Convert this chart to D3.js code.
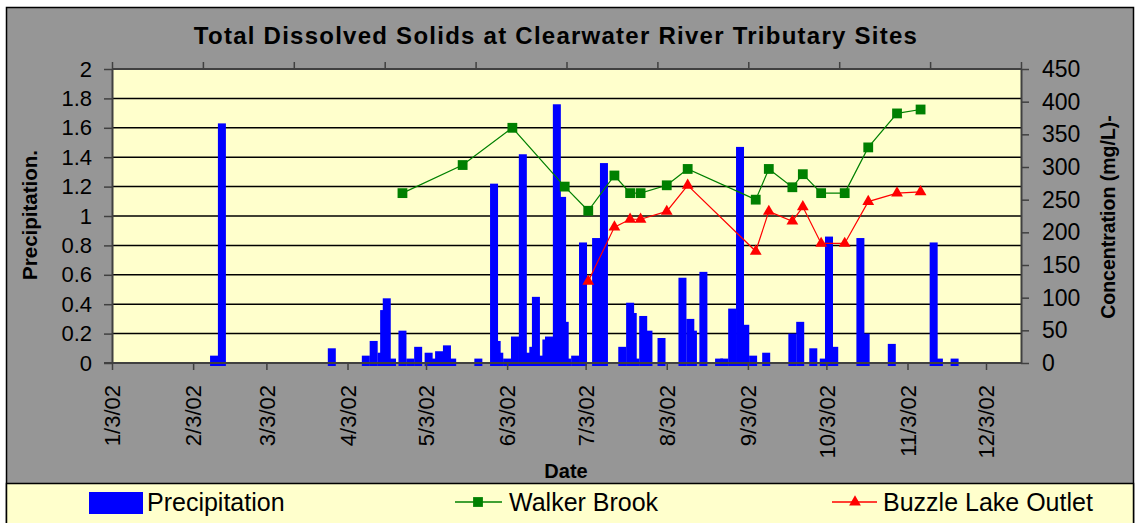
<!DOCTYPE html>
<html>
<head>
<meta charset="utf-8">
<script src="https://cdn.jsdelivr.net/npm/d3@7"></script>
<style>
  body { margin: 0; background: #fff; }
  svg { display: block; font-family: "Liberation Sans", Arial, sans-serif; }
</style>
</head>
<body>
<div id="chart"></div>
<script>
// precipitation (left axis)
const precipDates = [
  "2002-02-11", "2002-02-14", "2002-03-28", "2002-04-10", "2002-04-13", "2002-04-16", "2002-04-17",
  "2002-04-18", "2002-04-20", "2002-04-24", "2002-04-27", "2002-04-30", "2002-05-04", "2002-05-06",
  "2002-05-08", "2002-05-11", "2002-05-13", "2002-05-23", "2002-05-29", "2002-05-30", "2002-05-31",
  "2002-06-03", "2002-06-06", "2002-06-09", "2002-06-11", "2002-06-13", "2002-06-14", "2002-06-15",
  "2002-06-16", "2002-06-18", "2002-06-19", "2002-06-22", "2002-06-24", "2002-06-25", "2002-06-26",
  "2002-06-29", "2002-07-02", "2002-07-07", "2002-07-10", "2002-07-17", "2002-07-20", "2002-07-21",
  "2002-07-22", "2002-07-25", "2002-07-27", "2002-08-01", "2002-08-09", "2002-08-12", "2002-08-13",
  "2002-08-17", "2002-08-23", "2002-08-25", "2002-08-28", "2002-08-31", "2002-09-02", "2002-09-05",
  "2002-09-10", "2002-09-20", "2002-09-23", "2002-09-28", "2002-10-02", "2002-10-04", "2002-10-06",
  "2002-10-16", "2002-10-18", "2002-10-28", "2002-11-13", "2002-11-15", "2002-11-21"
];
const precipValues = [
  0.05, 1.63, 0.10, 0.05, 0.15, 0.07, 0.36,
  0.44, 0.03, 0.22, 0.03, 0.11, 0.07, 0.03,
  0.08, 0.12, 0.03, 0.03, 1.22, 0.15, 0.07,
  0.03, 0.18, 1.42, 0.07, 0.11, 0.45, 0.03,
  0.05, 0.16, 0.18, 1.76, 1.13, 0.28, 0.03,
  0.05, 0.82, 0.85, 1.36, 0.11, 0.41, 0.34,
  0.03, 0.32, 0.22, 0.17, 0.58, 0.30, 0.22,
  0.62, 0.03, 0.03, 0.37, 1.47, 0.26, 0.05,
  0.07, 0.20, 0.28, 0.10, 0.03, 0.86, 0.11,
  0.85, 0.20, 0.13, 0.82, 0.03, 0.03
];

// concentration samples (right axis)
const sampleDates = [
  "2002-04-24", "2002-05-17", "2002-06-05", "2002-06-25", "2002-07-04", "2002-07-14", "2002-07-20",
  "2002-07-24", "2002-08-03", "2002-08-11", "2002-09-06", "2002-09-11", "2002-09-20", "2002-09-24",
  "2002-10-01", "2002-10-10", "2002-10-19", "2002-10-30", "2002-11-08"
];
const walkerBrook = [260, 303, 360, 270, 233, 287, 260, 260, 272, 297, 250, 297, 269, 289, 260, 260, 330, 382, 388];
const buzzleLake = [null, null, null, null, 125, 208, 220, 220, 232, 272, 171, 232, 217, 239, 183, 183, 247, 260, 262];

const xTickDates = [
  "2002-01-03", "2002-02-03", "2002-03-03", "2002-04-03", "2002-05-03", "2002-06-03",
  "2002-07-03", "2002-08-03", "2002-09-03", "2002-10-03", "2002-11-03", "2002-12-03"
];
const leftTicks = [0, 0.2, 0.4, 0.6, 0.8, 1, 1.2, 1.4, 1.6, 1.8, 2];
const rightTicks = [0, 50, 100, 150, 200, 250, 300, 350, 400, 450];

const parse = d3.utcParse("%Y-%m-%d");
const W = 1135, H = 523;
const plot = { left: 112, right: 1021, top: 69, bottom: 363 };

const svg = d3.select("#chart").append("svg")
  .attr("width", W)
  .attr("height", H);

// chart frame + legend box
svg.append("rect")
  .attr("x", 6.5).attr("y", 7.5)
  .attr("width", 1127).attr("height", 520)
  .attr("fill", "#969696").attr("stroke", "#000").attr("stroke-width", 1.5);

svg.append("rect")
  .attr("x", 6.5).attr("y", 483.5)
  .attr("width", 1127).attr("height", 45)
  .attr("fill", "#ffffcc").attr("stroke", "#000").attr("stroke-width", 1.5);

svg.append("rect")
  .attr("x", plot.left).attr("y", plot.top)
  .attr("width", plot.right - plot.left).attr("height", plot.bottom - plot.top)
  .attr("fill", "#ffffcc");

// scales
const x = d3.scaleUtc()
  .domain([parse("2002-01-03"), parse("2002-12-03")])
  .range([plot.left, 986]);
const xTop = d3.scaleLinear().domain([0, 10]).range([plot.left, plot.right]);
const yLeft = d3.scaleLinear().domain([0, 2]).range([plot.bottom, plot.top]);
const yRight = d3.scaleLinear().domain([0, 450]).range([plot.bottom, plot.top]);

// gridlines
svg.append("g")
  .selectAll("line")
  .data(leftTicks)
  .enter().append("line")
  .attr("x1", plot.left).attr("x2", plot.right)
  .attr("y1", d => yLeft(d)).attr("y2", d => yLeft(d))
  .attr("stroke", "#000").attr("stroke-width", 1.5);

// precipitation bars
const barW = 8;
svg.append("g")
  .selectAll("rect")
  .data(precipDates.map((d, i) => ({ date: parse(d), v: precipValues[i] })))
  .enter().append("rect")
  .attr("x", d => x(d.date) - barW / 2)
  .attr("y", d => yLeft(d.v))
  .attr("width", barW)
  .attr("height", d => yLeft(0) - yLeft(d.v) + 3)
  .attr("fill", "#0000ff");

// concentration lines
const walkerData = sampleDates.map((d, i) => ({ date: parse(d), v: walkerBrook[i] }));
const buzzleData = sampleDates.map((d, i) => ({ date: parse(d), v: buzzleLake[i] }))
  .filter(d => d.v !== null);

const line = d3.line()
  .x(d => x(d.date))
  .y(d => yRight(d.v));

svg.append("path")
  .datum(walkerData)
  .attr("d", line)
  .attr("fill", "none")
  .attr("stroke", "#008000")
  .attr("stroke-width", 1.2);

svg.append("path")
  .datum(buzzleData)
  .attr("d", line)
  .attr("fill", "none")
  .attr("stroke", "#ff0000")
  .attr("stroke-width", 1.2);

const square = d3.symbol().type(d3.symbolSquare).size(96);
const triangle = d3.symbol().type(d3.symbolTriangle).size(60);

svg.append("g")
  .selectAll("path")
  .data(walkerData)
  .enter().append("path")
  .attr("d", square)
  .attr("transform", d => `translate(${x(d.date)},${yRight(d.v)})`)
  .attr("fill", "#008000");

svg.append("g")
  .selectAll("path")
  .data(buzzleData)
  .enter().append("path")
  .attr("d", triangle)
  .attr("transform", d => `translate(${x(d.date)},${yRight(d.v)})`)
  .attr("fill", "#ff0000");

// axes
function styleAxis(g) {
  g.select(".domain").attr("stroke", "#404040").attr("stroke-width", 2);
  g.selectAll(".tick line").attr("stroke", "#404040").attr("stroke-width", 1.5);
  g.selectAll(".tick text").attr("fill", "#000").style("font-size", "22px");
}

svg.append("g")
  .attr("transform", `translate(${plot.left},0)`)
  .call(d3.axisLeft(yLeft).tickValues(leftTicks).tickFormat(d3.format(".1~f"))
    .tickSize(8).tickSizeOuter(0).tickPadding(12))
  .call(styleAxis);

svg.append("g")
  .attr("transform", `translate(${plot.right},0)`)
  .call(d3.axisRight(yRight).tickValues(rightTicks)
    .tickSize(8).tickSizeOuter(0).tickPadding(13))
  .call(styleAxis)
  .call(g => g.selectAll(".tick text").style("font-size", "23px"));

svg.append("g")
  .attr("transform", `translate(0,${plot.top})`)
  .call(d3.axisTop(xTop).ticks(10).tickFormat("").tickSize(7).tickSizeOuter(0))
  .call(styleAxis)
  .call(g => g.select(".domain").attr("d", `M${plot.left},0H${plot.right}`));

svg.append("g")
  .attr("transform", `translate(0,${plot.bottom})`)
  .call(d3.axisBottom(x).tickValues(xTickDates.map(parse))
    .tickFormat(d3.utcFormat("%-m/%-d/%y")).tickSize(7).tickSizeOuter(0))
  .call(styleAxis)
  .call(g => g.select(".domain").attr("d", `M${plot.left - 8},0H${plot.right}`))
  .call(g => g.selectAll(".tick text")
    .attr("x", 0).attr("y", 0).attr("dy", "0.35em")
    .attr("transform", "translate(0,22) rotate(-90)")
    .style("text-anchor", "end"));

// titles
svg.append("text")
  .attr("x", 556).attr("y", 44)
  .attr("text-anchor", "middle")
  .style("font-size", "24px").style("font-weight", "bold")
  .style("letter-spacing", "1.25px")
  .text("Total Dissolved Solids at Clearwater River Tributary Sites");

svg.append("text")
  .attr("transform", "translate(37,215) rotate(-90)")
  .attr("text-anchor", "middle")
  .style("font-size", "20.5px").style("font-weight", "bold")
  .text("Precipitation.");

svg.append("text")
  .attr("transform", "translate(1115,217) rotate(-90)")
  .attr("text-anchor", "middle")
  .style("font-size", "19.5px").style("font-weight", "bold")
  .text("Concentration (mg/L)-");

svg.append("text")
  .attr("x", 566).attr("y", 478)
  .attr("text-anchor", "middle")
  .style("font-size", "20px").style("font-weight", "bold")
  .text("Date");

// legend
const legend = svg.append("g");
legend.append("rect")
  .attr("x", 89).attr("y", 492).attr("width", 54).attr("height", 22)
  .attr("fill", "#0000ff");
legend.append("text").attr("x", 147).attr("y", 511)
  .style("font-size", "25px").text("Precipitation");

legend.append("line")
  .attr("x1", 455).attr("x2", 502).attr("y1", 502).attr("y2", 502)
  .attr("stroke", "#008000").attr("stroke-width", 1.5);
legend.append("path").attr("d", square)
  .attr("transform", "translate(478,502)").attr("fill", "#008000");
legend.append("text").attr("x", 509).attr("y", 511)
  .style("font-size", "25px").text("Walker Brook");

legend.append("line")
  .attr("x1", 832).attr("x2", 877).attr("y1", 502).attr("y2", 502)
  .attr("stroke", "#ff0000").attr("stroke-width", 1.5);
legend.append("path").attr("d", triangle)
  .attr("transform", "translate(855,502)").attr("fill", "#ff0000");
legend.append("text").attr("x", 883).attr("y", 511)
  .style("font-size", "25px").text("Buzzle Lake Outlet");
</script>
</body>
</html>
